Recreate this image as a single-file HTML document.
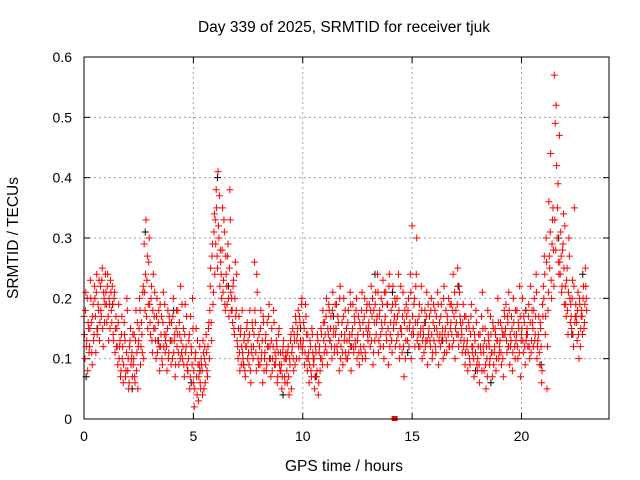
<!DOCTYPE html>
<html><head><meta charset="utf-8"><style>
body{margin:0;background:#fff}
svg{display:block;font-family:"Liberation Sans",sans-serif}
</style></head><body>
<svg id="chart" width="640" height="480" viewBox="0 0 640 480">
<rect width="640" height="480" fill="#fff"/>
<text x="344" y="32" font-size="15.5" text-anchor="middle">Day 339 of 2025, SRMTID for receiver tjuk</text>
<text x="344" y="471" font-size="15.5" text-anchor="middle">GPS time / hours</text>
<text x="18" y="238" font-size="15.5" text-anchor="middle" transform="rotate(-90 18 238)">SRMTID / TECUs</text>
<g id="grid"></g><g id="ticks"></g><g id="marks"></g>
<rect x="84" y="57" width="525" height="362" fill="none" stroke="#000" stroke-width="1"/>
</svg>
<script>
const xTicks=[0,5,10,15,20];
const yTicks=[0,0.1,0.2,0.3,0.4,0.5,0.6];
const yTickLabels=["0","0.1","0.2","0.3","0.4","0.5","0.6"];
const binTimes=[0,0.25,0.5,0.75,1,1.25,1.5,1.75,2,2.25,2.5,2.75,3,3.25,3.5,3.75,4,4.25,4.5,4.75,5,5.25,5.5,5.75,6,6.25,6.5,6.75,7,7.25,7.5,7.75,8,8.25,8.5,8.75,9,9.25,9.5,9.75,10,10.25,10.5,10.75,11,11.25,11.5,11.75,12,12.25,12.5,12.75,13,13.25,13.5,13.75,14,14.25,14.5,14.75,15,15.25,15.5,15.75,16,16.25,16.5,16.75,17,17.25,17.5,17.75,18,18.25,18.5,18.75,19,19.25,19.5,19.75,20,20.25,20.5,20.75,21,21.25,21.5,21.75,22,22.25,22.5,22.75];
const redValues=[
[.17,.10,.21,.13,.08,.15],[.12,.23,.16,.09,.19,.14],[.20,.11,.24,.15,.18,.13],[.22,.17,.25,.12,.20,.19],
[.21,.16,.24,.13,.19,.23],[.18,.22,.14,.20,.11,.17],[.15,.09,.19,.12,.07,.14],[.10,.06,.16,.13,.08,.20],
[.08,.05,.12,.15,.10,.07],[.09,.14,.06,.18,.11,.05],[.13,.20,.09,.16,.11,.22],[.29,.18,.33,.23,.15,.26],
[.19,.14,.22,.11,.24,.17],[.15,.10,.20,.13,.18,.08],[.12,.17,.09,.21,.14,.11],[.14,.08,.18,.11,.16,.13],
[.16,.10,.20,.13,.07,.15],[.12,.18,.09,.14,.22,.11],[.10,.15,.07,.19,.12,.09],[.08,.13,.05,.17,.11,.20],
[.06,.02,.10,.15,.04,.09],[.07,.12,.05,.09,.04,.11],[.10,.06,.14,.08,.12,.16],[.18,.25,.13,.29,.21,.34],
[.33,.38,.27,.41,.30,.22],[.26,.20,.35,.23,.31,.18],[.24,.19,.29,.17,.38,.21],[.20,.16,.23,.14,.26,.18],
[.13,.10,.17,.08,.15,.12],[.11,.09,.14,.07,.12,.16],[.13,.09,.18,.06,.11,.15],[.12,.26,.16,.08,.21,.10],
[.14,.09,.18,.11,.06,.16],[.10,.13,.08,.16,.12,.19],[.12,.07,.15,.10,.18,.09],[.09,.13,.06,.11,.15,.08],
[.08,.05,.11,.13,.07,.10],[.10,.06,.12,.04,.09,.14],[.11,.15,.08,.13,.17,.10],[.14,.18,.10,.16,.12,.20],
[.12,.16,.09,.19,.14,.08],[.10,.06,.13,.08,.15,.11],[.09,.05,.12,.07,.14,.04],[.11,.08,.15,.10,.18,.13],
[.16,.12,.20,.09,.14,.18],[.13,.17,.10,.21,.15,.12],[.14,.19,.11,.16,.08,.22],[.12,.16,.09,.20,.14,.11],
[.15,.10,.18,.13,.21,.08],[.14,.19,.11,.16,.12,.20],[.13,.17,.09,.15,.11,.21],[.16,.12,.20,.10,.18,.14],
[.15,.19,.12,.22,.17,.09],[.18,.13,.21,.16,.24,.11],[.17,.12,.20,.15,.23,.10],[.16,.21,.13,.19,.09,.24],
[.14,.18,.11,.22,.16,.20],[.19,.13,.17,.24,.10,.15],[.15,.11,.21,.07,.18,.13],[.17,.13,.20,.15,.24,.10],
[.32,.15,.19,.12,.22,.30],[.16,.12,.19,.14,.22,.10],[.15,.11,.18,.13,.21,.09],[.14,.17,.12,.20,.10,.16],
[.13,.18,.11,.15,.21,.09],[.16,.12,.19,.14,.10,.22],[.14,.18,.11,.16,.20,.12],[.15,.19,.12,.24,.17,.10],
[.18,.14,.25,.12,.21,.16],[.15,.11,.19,.13,.09,.17],[.12,.08,.16,.10,.14,.19],[.11,.15,.07,.13,.18,.09],
[.10,.14,.06,.12,.17,.21],[.12,.08,.15,.05,.10,.18],[.13,.09,.17,.11,.07,.15],[.11,.15,.08,.13,.20,.10],
[.12,.16,.09,.14,.07,.18],[.14,.19,.11,.16,.21,.09],[.12,.17,.08,.20,.14,.10],[.13,.18,.10,.15,.22,.07],
[.14,.20,.11,.16,.09,.13],[.15,.12,.19,.10,.22,.13],[.16,.12,.20,.14,.24,.10],[.13,.17,.09,.15,.06,.19],
[.22,.27,.14,.30,.05,.18],[.36,.25,.44,.20,.33,.28],[.57,.49,.52,.30,.39,.24],[.26,.31,.21,.28,.34,.19],
[.22,.17,.25,.14,.30,.20],[.19,.15,.23,.12,.35,.17],[.17,.13,.21,.10,.19,.15],[.18,.14,.22,.16,.25,.20]];
const redValues2=[
[.14,.18,.12,.20,.16,.11],[.15,.20,.11,.17,.13,.22],[.17,.21,.14,.19,.23,.16],[.18,.23,.15,.21,.16,.24],
[.19,.22,.17,.20,.15,.21],[.16,.19,.13,.21,.15,.12],[.12,.16,.10,.13,.08,.17],[.12,.09,.14,.07,.11,.18],
[.10,.06,.13,.09,.11,.14],[.10,.07,.13,.08,.16,.12],[.15,.18,.12,.14,.21,.10],[.21,.24,.17,.27,.19,.30],
[.16,.20,.13,.18,.15,.21],[.13,.17,.11,.16,.12,.19],[.14,.10,.16,.12,.19,.13],[.12,.15,.10,.17,.13,.09],
[.13,.17,.11,.14,.09,.18],[.14,.11,.16,.10,.13,.19],[.12,.09,.14,.11,.17,.08],[.10,.14,.07,.12,.09,.15],
[.08,.05,.11,.07,.13,.03],[.09,.06,.10,.08,.13,.05],[.12,.09,.11,.07,.15,.10],[.22,.16,.27,.19,.31,.24],
[.29,.35,.25,.32,.37,.28],[.24,.28,.21,.33,.19,.27],[.22,.27,.20,.25,.33,.18],[.18,.22,.15,.20,.17,.24],
[.12,.15,.11,.14,.09,.18],[.10,.13,.08,.12,.15,.10],[.11,.14,.08,.12,.16,.10],[.14,.18,.11,.24,.13,.09],
[.12,.15,.10,.13,.17,.08],[.11,.14,.09,.12,.17,.10],[.10,.13,.08,.12,.16,.11],[.10,.12,.07,.14,.09,.11],
[.09,.07,.12,.10,.06,.11],[.08,.11,.07,.10,.13,.05],[.12,.10,.14,.09,.16,.13],[.15,.12,.17,.13,.19,.11],
[.13,.15,.11,.17,.10,.14],[.11,.09,.12,.07,.14,.10],[.10,.07,.11,.08,.13,.06],[.12,.10,.14,.09,.16,.11],
[.14,.17,.11,.15,.19,.13],[.15,.12,.18,.14,.11,.19],[.15,.12,.17,.13,.20,.10],[.14,.11,.17,.13,.18,.10],
[.13,.16,.11,.14,.19,.12],[.15,.12,.17,.13,.18,.10],[.14,.11,.16,.12,.18,.10],[.14,.17,.11,.15,.19,.13],
[.16,.14,.18,.13,.20,.11],[.16,.19,.14,.17,.21,.13],[.18,.14,.16,.19,.12,.21],[.17,.14,.19,.15,.22,.12],
[.16,.13,.19,.15,.17,.12],[.16,.20,.14,.18,.12,.22],[.14,.17,.12,.16,.10,.19],[.15,.18,.12,.16,.21,.14],
[.17,.14,.20,.16,.24,.13],[.14,.17,.12,.15,.18,.13],[.14,.16,.12,.17,.13,.19],[.15,.13,.18,.14,.11,.19],
[.15,.12,.17,.14,.19,.13],[.14,.17,.13,.15,.20,.11],[.15,.13,.17,.14,.12,.19],[.16,.14,.18,.13,.21,.15],
[.16,.19,.14,.22,.17,.13],[.14,.16,.12,.17,.11,.15],[.13,.11,.15,.09,.17,.12],[.12,.10,.14,.11,.16,.08],
[.12,.09,.14,.11,.08,.15],[.11,.13,.09,.12,.07,.14],[.12,.10,.14,.11,.16,.09],[.12,.14,.10,.13,.16,.11],
[.13,.11,.15,.10,.14,.17],[.15,.13,.17,.12,.18,.14],[.13,.15,.11,.16,.12,.18],[.14,.12,.16,.11,.17,.13],
[.15,.13,.17,.12,.18,.14],[.14,.17,.12,.16,.11,.18],[.15,.18,.13,.17,.21,.12],[.14,.11,.16,.12,.08,.17],
[.20,.24,.17,.26,.12,.21],[.27,.31,.23,.29,.35,.22],[.33,.28,.42,.35,.26,.47],[.24,.27,.22,.29,.25,.32],
[.19,.23,.18,.21,.27,.16],[.17,.20,.14,.22,.16,.19],[.16,.18,.14,.20,.12,.17],[.17,.20,.15,.19,.22,.18]];
const blackTimes=[0.1,0.6,1.3,2.2,2.8,3.4,4.1,4.9,5.3,6.1,6.6,7.3,8.4,9.1,9.9,10.6,11.4,12.2,13.3,14.1,14.8,15.6,16.4,17.1,17.9,18.6,19.4,20.2,20.9,21.7,22.3,22.8];
const blackValues=[.07,.15,.19,.05,.31,.13,.18,.06,.08,.40,.22,.09,.12,.04,.15,.07,.17,.12,.24,.21,.11,.16,.13,.22,.08,.06,.12,.18,.09,.30,.14,.24];
const flagTimes=[14.2];
const flagValues=[0];

const NS="http://www.w3.org/2000/svg";
const X0=84,X1=609,Y0=419,Y1=57,XMAX=24,YMAX=0.6;
const xs=v=>X0+(X1-X0)*v/XMAX;
const ys=v=>Y0-(Y0-Y1)*v/YMAX;
const grid=document.getElementById('grid'),ticks=document.getElementById('ticks'),marks=document.getElementById('marks');
function mk(tag,attrs,parent){const e=document.createElementNS(NS,tag);for(const k in attrs)e.setAttribute(k,attrs[k]);parent.appendChild(e);return e;}
yTicks.forEach((v,i)=>{
  const y=ys(v);
  if(i>0&&i<yTicks.length-1){const g=mk('line',{x1:X0,x2:X1,y1:y,y2:y,stroke:'#a0a0a0','stroke-dasharray':'2,3'},grid);
  
  }
  const t=mk('line',{x1:X0,x2:X0+6,y1:y,y2:y,stroke:'#000'},ticks);
  
  
  const t2=mk('line',{x1:X1-6,x2:X1,y1:y,y2:y,stroke:'#000'},ticks);
  
  
  const l=mk('text',{x:X0-12,y:y+5,'font-size':'14','text-anchor':'end'},ticks);
  l.textContent=yTickLabels[i];
  
  
});
xTicks.forEach(v=>{
  const x=xs(v);
  if(v>0){const g=mk('line',{x1:x,x2:x,y1:Y1,y2:Y0,stroke:'#a0a0a0','stroke-dasharray':'2,3'},grid);
  
  }
  const t=mk('line',{x1:x,x2:x,y1:Y0,y2:Y0-6,stroke:'#000'},ticks);
  
  
  const t2=mk('line',{x1:x,x2:x,y1:Y1,y2:Y1+6,stroke:'#000'},ticks);
  
  
  const l=mk('text',{x:x,y:Y0+22,'font-size':'14','text-anchor':'middle'},ticks);
  l.textContent=String(v);
  
  
});
function plus(t,v,color,name){
  const x=xs(t),y=ys(v);
  const p=mk('path',{d:`M${x-3.5} ${y}H${x+3.5}M${x} ${y-3.5}V${y+3.5}`,stroke:color,'stroke-width':'1',fill:'none'},marks);
  
  
}
blackTimes.forEach((t,i)=>plus(t,blackValues[i],'#000','black-point'));
binTimes.forEach((t,i)=>redValues[i].forEach((v,j)=>plus(t+j*0.042,v,'#ff0000','red-point')));
binTimes.forEach((t,i)=>redValues2[i].forEach((v,j)=>plus(t+0.021+j*0.042,v,'#ff0000','red-point')));
flagTimes.forEach((t,i)=>{
  const r=mk('rect',{x:xs(t)-3,y:ys(flagValues[i])-3,width:6,height:5,fill:'#ff0000'},marks);
  
  
});
</script>
</body></html>
